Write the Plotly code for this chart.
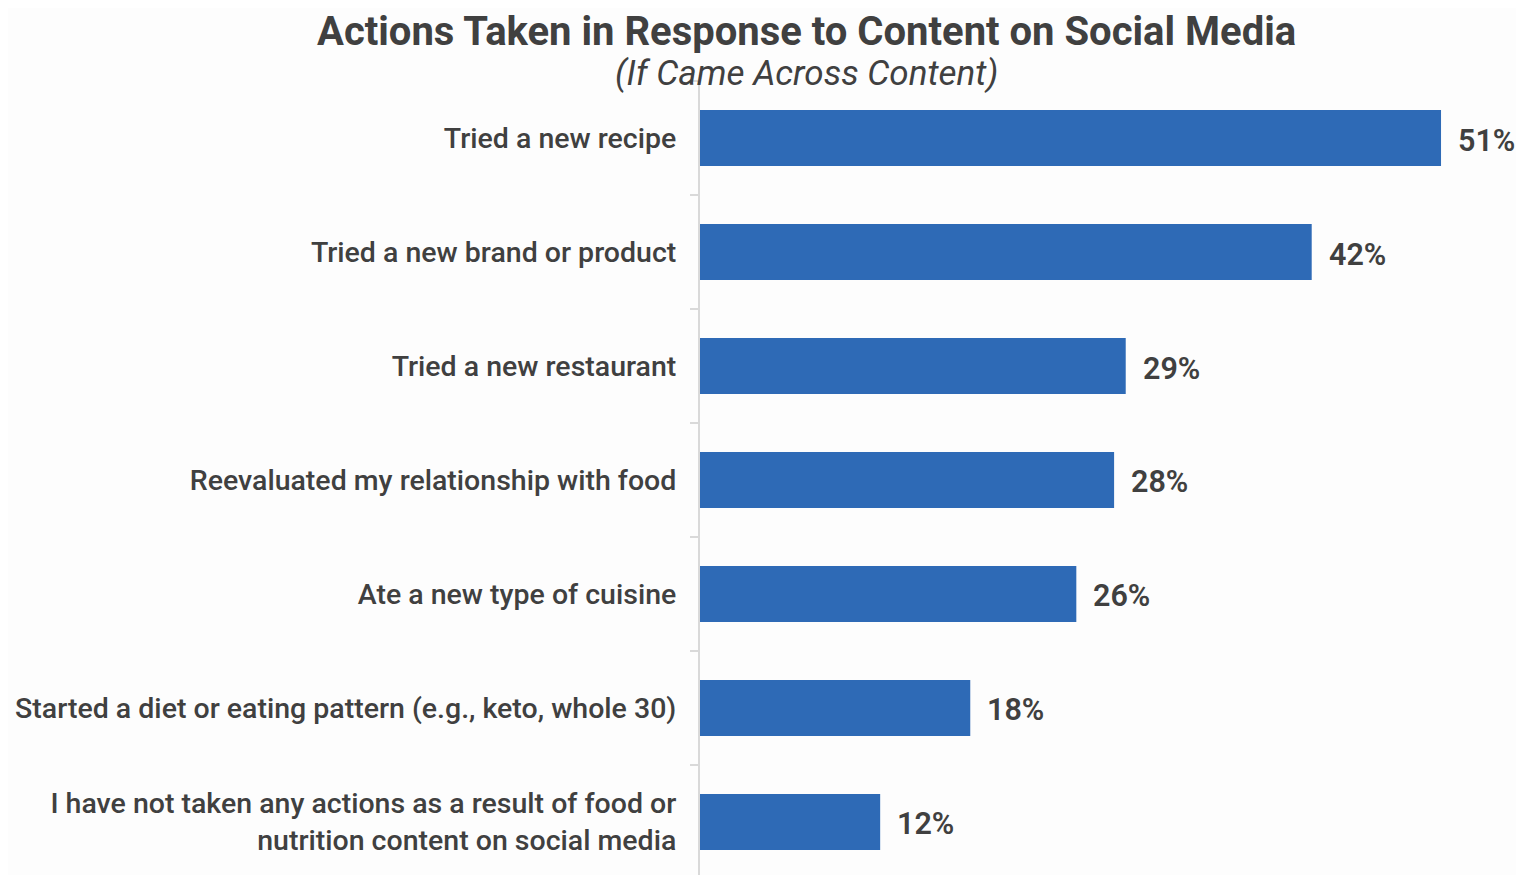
import plotly.graph_objects as go

categories = [
    "Tried a new recipe",
    "Tried a new brand or product",
    "Tried a new restaurant",
    "Reevaluated my relationship with food",
    "Ate a new type of cuisine",
    "Started a diet or eating pattern (e.g., keto, whole 30)",
    "I have not taken any actions as a result of food or<br>nutrition content on social media",
]
values = [51.0, 42.1, 29.3, 28.5, 25.9, 18.6, 12.4]
value_labels = ["51%", "42%", "29%", "28%", "26%", "18%", "12%"]
title_text = "Actions Taken in Response to Content on Social Media"
subtitle_text = "(If Came Across Content)"

BAR = "#2E6AB6"
TXT = "#404040"
FONT = "Roboto, Arial, sans-serif"

fig = go.Figure()
fig.add_trace(go.Bar(
    x=values, y=categories, orientation="h",
    marker=dict(color=BAR, line=dict(width=0)),
    width=0.49, hoverinfo="skip",
))

for c, v, t in zip(categories, values, value_labels):
    fig.add_annotation(x=v, y=c, text=t, showarrow=False, xanchor="left",
                       xshift=15, yshift=-2,
                       font=dict(family=FONT, size=30.5, color=TXT, weight=600))

fig.add_annotation(text="<b>" + title_text + "</b>", xref="paper", yref="paper",
                   x=0.13, y=1, xanchor="center", yanchor="middle", yshift=50,
                   borderpad=0,
                   showarrow=False, font=dict(family=FONT, size=40, color=TXT))
fig.add_annotation(text="<i>" + subtitle_text + "</i>", xref="paper", yref="paper",
                   x=0.13, y=1, xanchor="center", yanchor="middle", yshift=8,
                   borderpad=0,
                   showarrow=False, font=dict(family=FONT, size=35, color=TXT))

fig.update_layout(
    width=1508, height=867,
    margin=dict(l=692, r=0, t=73, b=0),
    paper_bgcolor="#fdfdfd", plot_bgcolor="#fdfdfd",
    showlegend=False,
)

fig.update_xaxes(range=[0, 56.16], visible=False, fixedrange=True)
fig.update_yaxes(
    categoryorder="array", categoryarray=categories,
    range=[6.465, -0.5],
    showline=True, linecolor="#d9d9d9", linewidth=2,
    ticks="outside", tickson="boundaries", ticklen=8, tickcolor="#d9d9d9",
    tickwidth=1.5, showgrid=False, zeroline=False,
    ticklabelstandoff=16,
    tickfont=dict(family=FONT, size=28.5, color=TXT, weight=500),
)

fig.write_html("out.html")
